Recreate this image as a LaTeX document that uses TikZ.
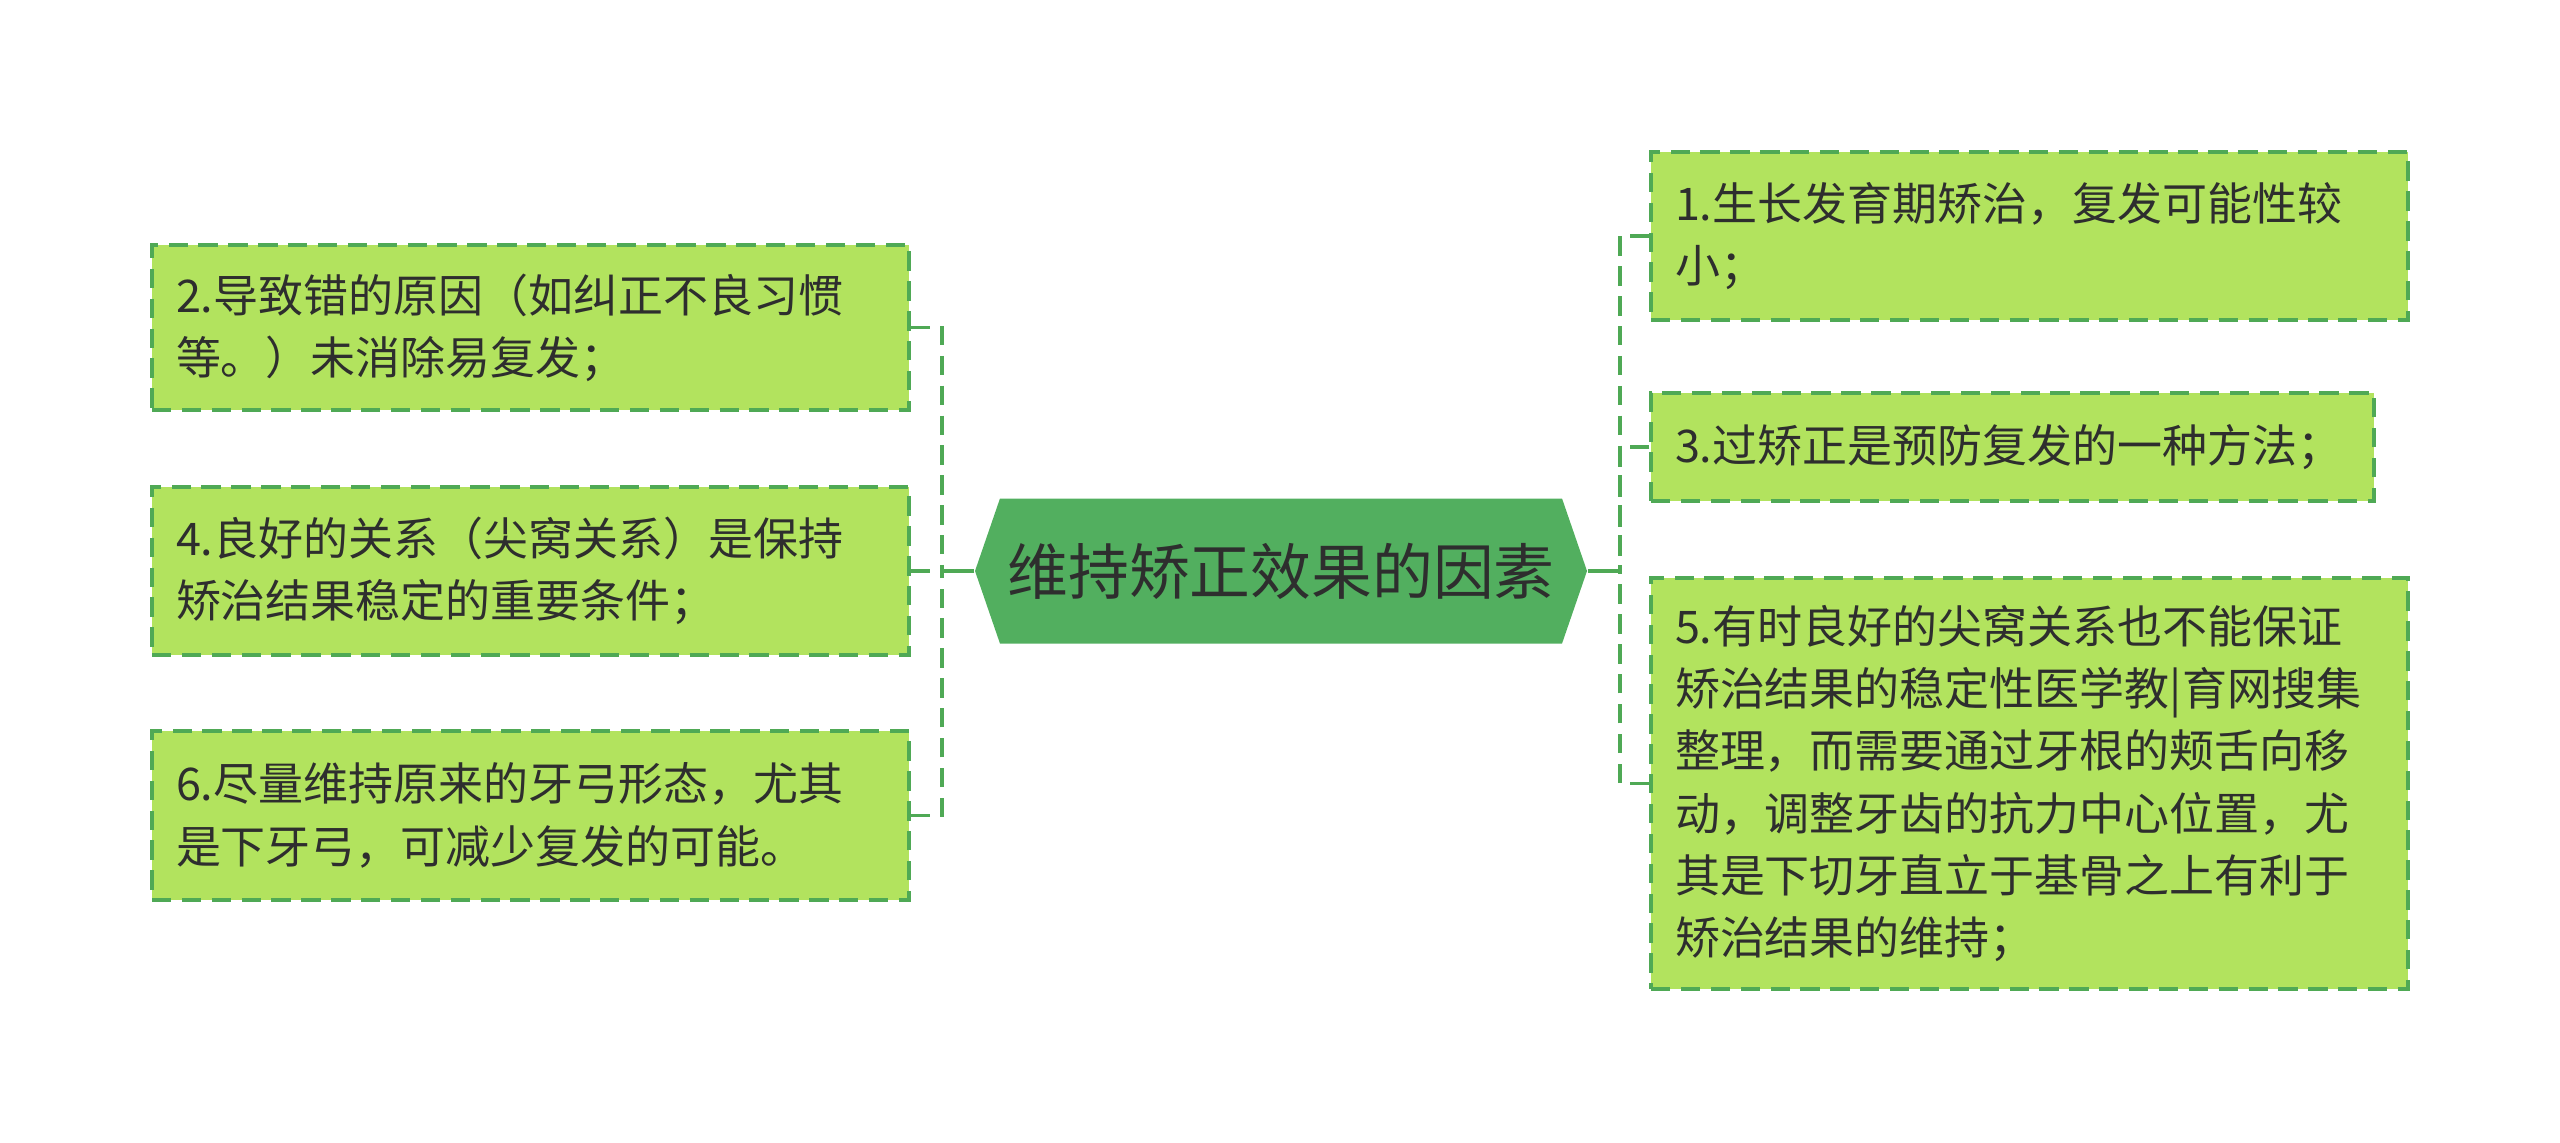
\documentclass[tikz,border=0pt]{standalone}
\usepackage{fontspec}
\setmainfont{Noto Sans CJK SC}
\usepackage{tikz}
\usetikzlibrary{shapes.symbols}

\definecolor{leafgreen}{HTML}{B2E35E}
\definecolor{rootgreen}{HTML}{52AF5F}
\definecolor{linegreen}{HTML}{4FA955}
\definecolor{textgray}{HTML}{2E2E2E}

\begin{document}
\begin{tikzpicture}[
    leaf/.style={rectangle, draw=linegreen, fill=leafgreen, line width=0.9pt,
        dash pattern=on 5.5pt off 3pt, inner xsep=0.24cm, align=left,
        text=textgray, font=\fontsize{12.8pt}{17.7pt}\selectfont,
        minimum width=7.57cm, text width=7.09cm},
    root/.style={signal, signal to=west and east, signal pointer angle=142,
        fill=rootgreen, text=textgray, font=\fontsize{17.3pt}{20pt}\selectfont,
        minimum width=6.12cm, minimum height=1.45cm, inner sep=0pt},
    link/.style={draw=linegreen, line width=0.9pt, dash pattern=on 5.5pt off 3pt},
    trunk/.style={draw=linegreen, line width=1.1pt}
]
    \useasboundingbox (0,0) rectangle (25.6,-11.43);

    % Root
    \node[root] (root) at (12.81,-5.71) {维持矫正效果的因素};

    % Joints
    \coordinate (lj) at (9.42,-5.71);
    \coordinate (rj) at (16.20,-5.71);

    % Left leaves
    \node[leaf, minimum height=1.65cm] (l2) at (5.305,-3.275) {2.导致错的原因（如纠正不良习惯\\等。）未消除易复发；};
    \node[leaf, minimum height=1.68cm] (l4) at (5.305,-5.71) {4.良好的关系（尖窝关系）是保持\\矫治结果稳定的重要条件；};
    \node[leaf, minimum height=1.69cm] (l6) at (5.305,-8.155) {6.尽量维持原来的牙弓形态，尤其\\是下牙弓，可减少复发的可能。};

    % Right leaves
    \node[leaf, minimum height=1.68cm] (r1) at (20.295,-2.36) {1.生长发育期矫治，复发可能性较\\小；};
    \node[leaf, minimum height=1.08cm, minimum width=7.23cm, text width=6.75cm] (r3) at (20.125,-4.47) {3.过矫正是预防复发的一种方法；};
    \node[leaf, minimum height=4.11cm] (r5) at (20.295,-7.835) {5.有时良好的尖窝关系也不能保证\\矫治结果的稳定性医学教|育网搜集\\整理，而需要通过牙根的颊舌向移\\动，调整牙齿的抗力中心位置，尤\\其是下切牙直立于基骨之上有利于\\矫治结果的维持；};

    % Links
    \draw[trunk] (root.west) -- (lj);
    \draw[trunk] (root.east) -- (rj);
    \draw[link] (l2.east) -| (lj);
    \draw[link] (l4.east) -- (lj);
    \draw[link] (l6.east) -| (lj);
    \draw[link] (r1.west) -| (rj);
    \draw[link] (r3.west) -| (rj);
    \draw[link] (r5.west) -| (rj);
\end{tikzpicture}
\end{document}
